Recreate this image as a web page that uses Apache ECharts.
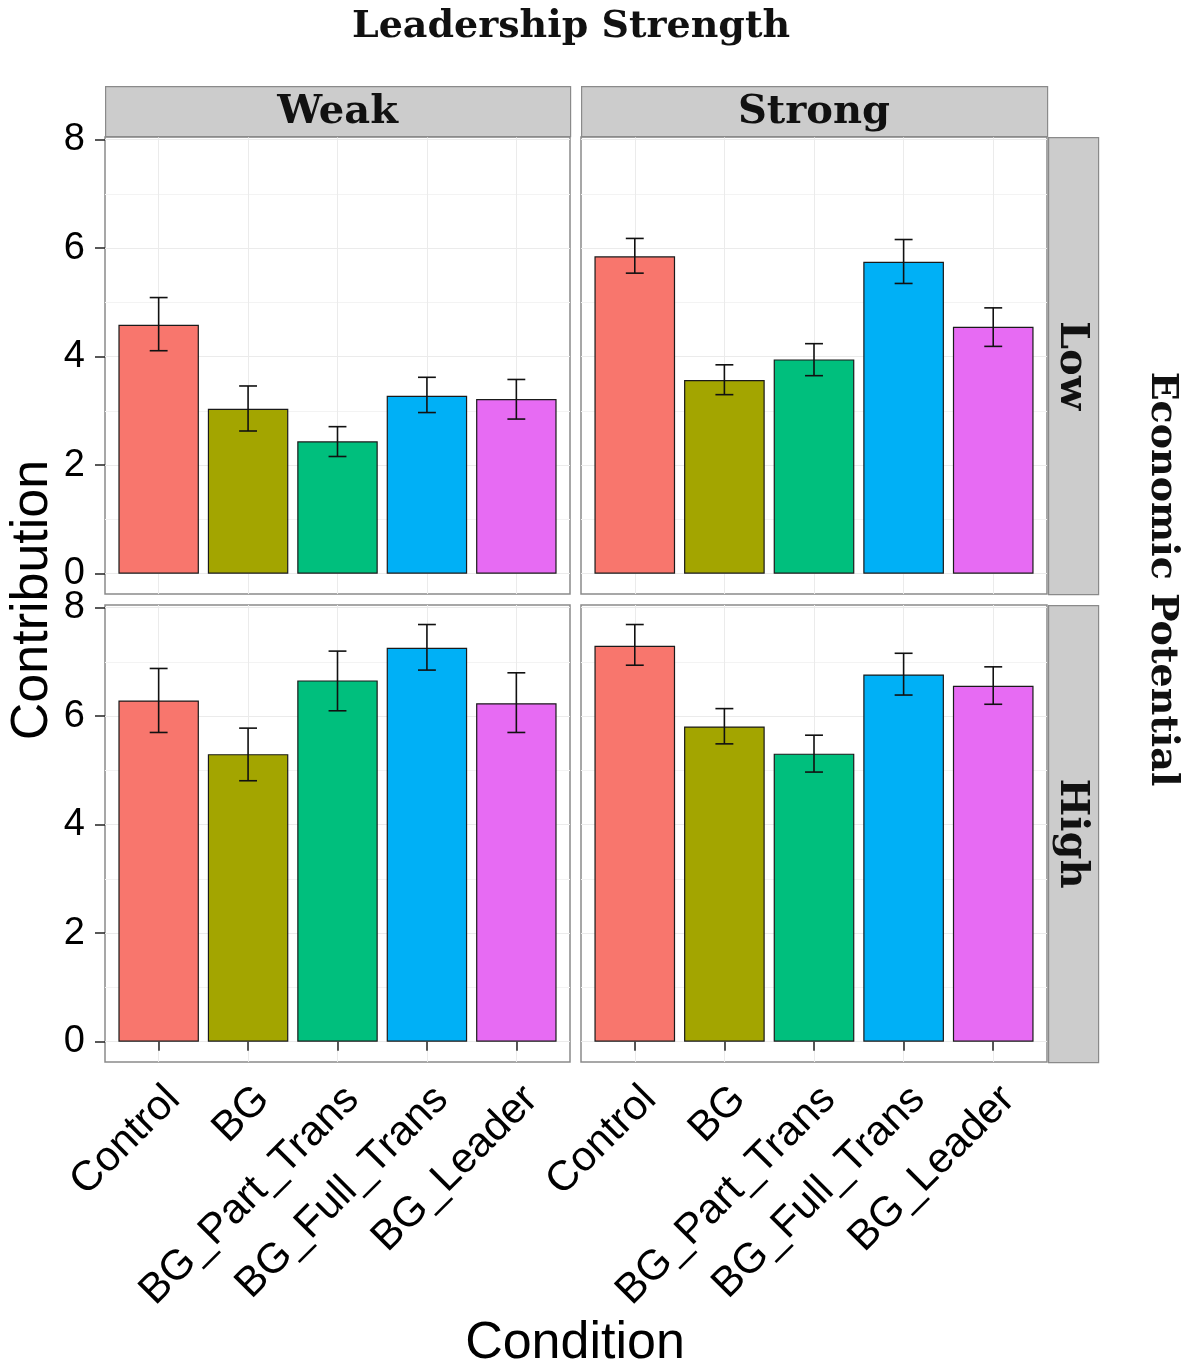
<!DOCTYPE html>
<html>
<head>
<meta charset="utf-8">
<script src="https://cdn.jsdelivr.net/npm/echarts@6/dist/echarts.min.js"></script>
<style>
html,body{margin:0;padding:0;background:#fff;}
#chart{width:1190px;height:1369px;}
</style>
</head>
<body>
<div id="chart"></div>
<script>
// ---- data ----
const conditions = ['Control', 'BG', 'BG_Part_Trans', 'BG_Full_Trans', 'BG_Leader'];
const leadership = ['Weak', 'Strong'];          // column facets
const economic = ['Low', 'High'];               // row facets
const yTicks = [0, 2, 4, 6, 8];
const yMinorTicks = [1, 3, 5, 7];

const weakLowMean  = [4.59, 3.04, 2.44, 3.28, 3.22];
const weakLowLo    = [4.11, 2.63, 2.16, 2.97, 2.85];
const weakLowHi    = [5.09, 3.46, 2.71, 3.62, 3.58];

const strongLowMean = [5.85, 3.57, 3.95, 5.75, 4.55];
const strongLowLo   = [5.54, 3.30, 3.65, 5.35, 4.19];
const strongLowHi   = [6.18, 3.85, 4.24, 6.16, 4.90];

const weakHighMean = [6.29, 5.30, 6.66, 7.26, 6.24];
const weakHighLo   = [5.70, 4.81, 6.10, 6.85, 5.70];
const weakHighHi   = [6.88, 5.78, 7.20, 7.69, 6.80];

const strongHighMean = [7.30, 5.81, 5.31, 6.77, 6.56];
const strongHighLo   = [6.94, 5.49, 4.97, 6.39, 6.22];
const strongHighHi   = [7.69, 6.14, 5.65, 7.16, 6.91];

const barColors = ['#F8766D', '#A3A500', '#00BF7D', '#00B0F6', '#E76BF3'];

// panels: row-major [Low row: Weak, Strong], [High row: Weak, Strong]
const panels = [
  {mean: weakLowMean, lo: weakLowLo, hi: weakLowHi},
  {mean: strongLowMean, lo: strongLowLo, hi: strongLowHi},
  {mean: weakHighMean, lo: weakHighLo, hi: weakHighHi},
  {mean: strongHighMean, lo: strongHighLo, hi: strongHighHi}
];

// ---- layout ----
const colLeft = [105, 581], colWidth = [465, 466];
const rowTop = [137, 605], rowHeight = 457;
const stripTop = 86, stripH = 50, stripRightX = 1048, stripW = 50;
const sans = 'Liberation Sans, Arial, Helvetica, sans-serif';
const serif = 'DejaVu Serif, serif';

const grids = [], xAxes = [], yAxes = [], series = [];
for (let r = 0; r < 2; r++) {
  for (let c = 0; c < 2; c++) {
    const g = r * 2 + c;
    grids.push({
      left: colLeft[c], top: rowTop[r], width: colWidth[c], height: rowHeight,
      show: true, backgroundColor: '#ffffff', borderColor: '#8a8a8a', borderWidth: 1.5,
      containLabel: false
    });
    xAxes.push({
      type: 'value', gridIndex: g, min: 0.4, max: 5.6,
      axisLine: {show: false},
      axisTick: {show: r === 1, customValues: [1, 2, 3, 4, 5], length: 9, lineStyle: {color: '#222', width: 1.5}},
      axisLabel: {
        show: r === 1, customValues: [1, 2, 3, 4, 5], rotate: 45, margin: 16,
        align: 'right', verticalAlign: 'top',
        fontFamily: sans, fontSize: 42, color: '#000',
        formatter: v => conditions[Math.round(v) - 1]
      },
      splitLine: {show: true, lineStyle: {color: '#ebebeb', width: 1}}
    });
    // major y axis
    yAxes.push({
      type: 'value', gridIndex: g, min: -0.375, max: 8.05,
      axisLine: {show: false},
      axisTick: {show: c === 0, customValues: yTicks, length: 10, lineStyle: {color: '#222', width: 1.5}},
      axisLabel: {show: c === 0, customValues: yTicks, margin: 20, fontFamily: sans, fontSize: 38, color: '#000'},
      splitLine: {show: true, lineStyle: {color: '#ebebeb', width: 1}}
    });
    // minor y axis (grid lines only)
    yAxes.push({
      type: 'value', gridIndex: g, min: -0.375, max: 8.05, position: 'left',
      axisLine: {show: false}, axisLabel: {show: false},
      axisTick: {show: false, customValues: yMinorTicks},
      splitLine: {show: true, lineStyle: {color: '#f3f3f3', width: 1}}
    });
  }
}

panels.forEach((p, g) => {
  series.push({
    type: 'bar', xAxisIndex: g, yAxisIndex: g * 2, barWidth: '90%',
    data: p.mean.map((v, i) => ({value: [i + 1, v], itemStyle: {color: barColors[i]}})),
    itemStyle: {borderColor: '#1a1a1a', borderWidth: 1.2},
    z: 3, silent: true
  });
  series.push({
    type: 'custom', xAxisIndex: g, yAxisIndex: g * 2, z: 5, silent: true,
    data: p.mean.map((v, i) => [i + 1, p.lo[i], p.hi[i]]),
    renderItem: (params, api) => {
      const x = api.value(0);
      const top = api.coord([x, api.value(2)]);
      const bot = api.coord([x, api.value(1)]);
      const half = api.size([0.1, 0])[0];
      const st = {stroke: '#111', lineWidth: 1.6};
      return {type: 'group', children: [
        {type: 'line', shape: {x1: top[0], y1: top[1], x2: bot[0], y2: bot[1]}, style: st},
        {type: 'line', shape: {x1: top[0] - half, y1: top[1], x2: top[0] + half, y2: top[1]}, style: st},
        {type: 'line', shape: {x1: bot[0] - half, y1: bot[1], x2: bot[0] + half, y2: bot[1]}, style: st}
      ]};
    }
  });
});

// strips and titles
const graphics = [];
leadership.forEach((name, c) => {
  graphics.push({
    type: 'rect', left: colLeft[c], top: stripTop, z: 10,
    shape: {width: colWidth[c], height: stripH},
    style: {fill: '#cccccc', stroke: '#8a8a8a', lineWidth: 1.2}
  });
  graphics.push({
    type: 'text', z: 11, x: colLeft[c] + colWidth[c] / 2, y: stripTop + stripH / 2 + 2,
    style: {text: name, font: 'bold 40px ' + serif, fill: '#111', textAlign: 'center', textVerticalAlign: 'middle'}
  });
});
economic.forEach((name, r) => {
  graphics.push({
    type: 'rect', left: stripRightX, top: rowTop[r], z: 10,
    shape: {width: stripW, height: rowHeight},
    style: {fill: '#cccccc', stroke: '#8a8a8a', lineWidth: 1.2}
  });
  graphics.push({
    type: 'text', z: 11, x: stripRightX + stripW / 2 - 2, y: rowTop[r] + rowHeight / 2,
    rotation: -Math.PI / 2,
    style: {text: name, font: 'bold 40px ' + serif, fill: '#111', textAlign: 'center', textVerticalAlign: 'middle'}
  });
});
graphics.push({
  type: 'text', x: 571, y: 27,
  style: {text: 'Leadership Strength', font: 'bold 38px ' + serif, fill: '#111', textAlign: 'center', textVerticalAlign: 'middle'}
});
graphics.push({
  type: 'text', x: 1162, y: 579, rotation: -Math.PI / 2,
  style: {text: 'Economic Potential', font: 'bold 38px ' + serif, fill: '#111', textAlign: 'center', textVerticalAlign: 'middle'}
});
graphics.push({
  type: 'text', x: 33, y: 600, rotation: Math.PI / 2,
  style: {text: 'Contribution', font: '52px ' + sans, fill: '#000', textAlign: 'center', textVerticalAlign: 'middle'}
});
graphics.push({
  type: 'text', x: 575, y: 1344,
  style: {text: 'Condition', font: '52px ' + sans, fill: '#000', textAlign: 'center', textVerticalAlign: 'middle'}
});

const chart = echarts.init(document.getElementById('chart'), null, {renderer: 'canvas'});
chart.setOption({
  animation: false,
  backgroundColor: '#ffffff',
  grid: grids,
  xAxis: xAxes,
  yAxis: yAxes,
  series: series,
  graphic: graphics
});
</script>
</body>
</html>
